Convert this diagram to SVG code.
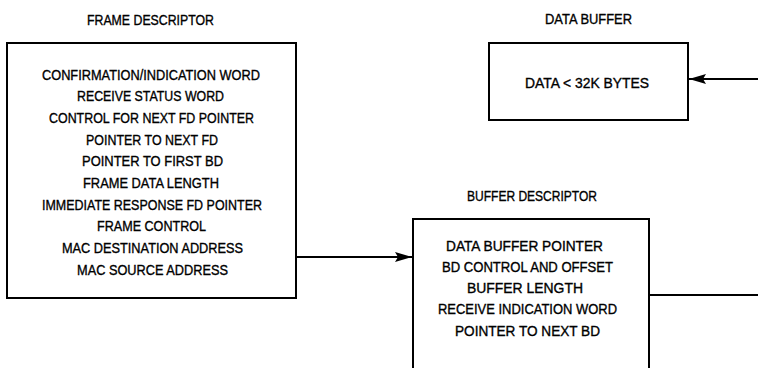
<svg xmlns="http://www.w3.org/2000/svg" width="758" height="368" viewBox="0 0 758 368">
<defs>
<style>
.box{fill:none;stroke:#000;stroke-width:2}
.ln{fill:none;stroke:#000;stroke-width:2}
text{font-family:"Liberation Sans",Arial,sans-serif;font-size:14.5px;fill:#000;stroke:#000;stroke-width:0.35;text-anchor:middle}
</style>
<marker id="ah" viewBox="0 0 17 10" refX="17" refY="5" markerWidth="17" markerHeight="10" markerUnits="userSpaceOnUse" orient="auto">
<path d="M0,0 L17,5 L0,10 L3,5 Z" fill="#000"/>
</marker>
</defs>
<rect width="758" height="368" fill="#fff"/>
<g id="frame-descriptor">
<text x="150.5" y="24.5" textLength="127" lengthAdjust="spacingAndGlyphs">FRAME DESCRIPTOR</text>
<rect class="box" x="7" y="43" width="289" height="255"/>
<text x="151" y="79.5" textLength="218" lengthAdjust="spacingAndGlyphs">CONFIRMATION/INDICATION WORD</text>
<text x="150.5" y="101.2" textLength="147" lengthAdjust="spacingAndGlyphs">RECEIVE STATUS WORD</text>
<text x="151.5" y="122.9" textLength="205" lengthAdjust="spacingAndGlyphs">CONTROL FOR NEXT FD POINTER</text>
<text x="152" y="144.6" textLength="132" lengthAdjust="spacingAndGlyphs">POINTER TO NEXT FD</text>
<text x="152.5" y="166.3" textLength="141" lengthAdjust="spacingAndGlyphs">POINTER TO FIRST BD</text>
<text x="151" y="188" textLength="136" lengthAdjust="spacingAndGlyphs">FRAME DATA LENGTH</text>
<text x="152" y="209.7" textLength="220" lengthAdjust="spacingAndGlyphs">IMMEDIATE RESPONSE FD POINTER</text>
<text x="151.5" y="231.4" textLength="109" lengthAdjust="spacingAndGlyphs">FRAME CONTROL</text>
<text x="152.5" y="253.1" textLength="181" lengthAdjust="spacingAndGlyphs">MAC DESTINATION ADDRESS</text>
<text x="152.5" y="274.8" textLength="151" lengthAdjust="spacingAndGlyphs">MAC SOURCE ADDRESS</text>
</g>
<g id="data-buffer">
<text x="588.5" y="23.5" textLength="87" lengthAdjust="spacingAndGlyphs">DATA BUFFER</text>
<rect class="box" x="489" y="43" width="199" height="77"/>
<text x="587" y="87.5" textLength="124" lengthAdjust="spacingAndGlyphs">DATA &lt; 32K BYTES</text>
</g>
<g id="buffer-descriptor">
<text x="532" y="200.5" textLength="130" lengthAdjust="spacingAndGlyphs">BUFFER DESCRIPTOR</text>
<path class="box" d="M413,369 V219 H649 V369"/>
<text x="524.5" y="250.5" textLength="157" lengthAdjust="spacingAndGlyphs">DATA BUFFER POINTER</text>
<text x="527.5" y="271.5" textLength="171" lengthAdjust="spacingAndGlyphs">BD CONTROL AND OFFSET</text>
<text x="525" y="292.5" textLength="116" lengthAdjust="spacingAndGlyphs">BUFFER LENGTH</text>
<text x="527.5" y="313.5" textLength="179" lengthAdjust="spacingAndGlyphs">RECEIVE INDICATION WORD</text>
<text x="527.5" y="335.5" textLength="145" lengthAdjust="spacingAndGlyphs">POINTER TO NEXT BD</text>
</g>
<g id="connectors">
<line class="ln" x1="296" y1="257" x2="412" y2="257" marker-end="url(#ah)"/>
<line class="ln" x1="758" y1="79" x2="689" y2="79" marker-end="url(#ah)"/>
<line class="ln" x1="649" y1="295" x2="758" y2="295"/>
</g>
</svg>
